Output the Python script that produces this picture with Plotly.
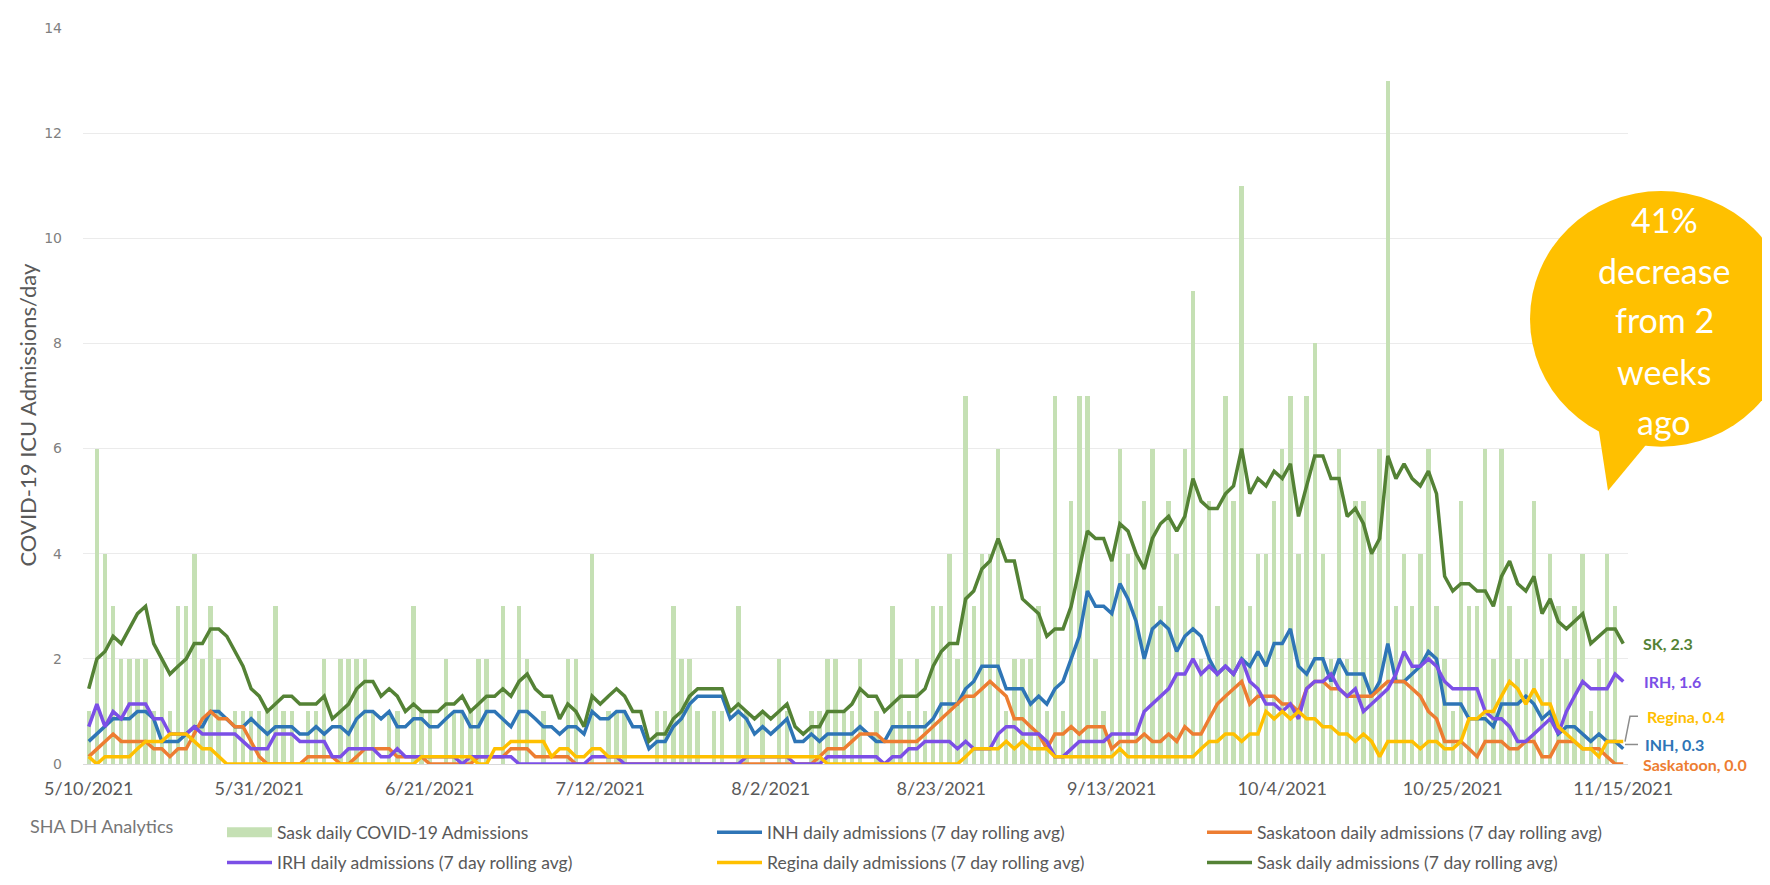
import pandas as pd
import plotly.graph_objects as go

# ── Data ──────────────────────────────────────────────────────────────────────
START_DATE = "2021-05-10"
END_DATE = "2021-11-15"

TICK_DATES = ["2021-05-10", "2021-05-31", "2021-06-21", "2021-07-12", "2021-08-02",
              "2021-08-23", "2021-09-13", "2021-10-04", "2021-10-25", "2021-11-15"]
TICK_LABELS = ["5/10/2021", "5/31/2021", "6/21/2021", "7/12/2021", "8/2/2021",
               "8/23/2021", "9/13/2021", "10/4/2021", "10/25/2021", "11/15/2021"]

# daily ICU admissions, Saskatchewan (bars)
SASK_DAILY = [
    1, 6, 4, 3, 2, 2, 2, 2, 1, 2, 1, 3, 3, 4, 2, 3, 2, 0, 1, 1, 1, 1, 1, 3, 1, 1, 0, 1, 1, 2, 0, 2, 2,
    2, 2, 1, 0, 1, 1, 0, 3, 1, 1, 0, 2, 1, 1, 1, 2, 2, 0, 3, 0, 3, 2, 0, 1, 0, 0, 2, 2, 0, 4, 0, 1, 1, 1, 0,
    0, 0, 1, 1, 3, 2, 2, 1, 0, 1, 1, 0, 3, 1, 0, 1, 0, 2, 1, 0, 0, 1, 1, 2, 2, 1, 1, 2, 0, 1, 0, 3, 2, 1,
    2, 1, 3, 3, 4, 2, 7, 3, 4, 4, 6, 1, 2, 2, 2, 3, 1, 7, 1, 5, 7, 7, 2, 1, 4, 6, 4, 4, 5, 6, 3, 5, 4, 6, 9, 2, 5, 3,
    7, 5, 11, 3, 4, 4, 5, 6, 7, 4, 7, 8, 4, 2, 6, 2, 5, 5, 4, 6, 13, 3, 4, 3, 4, 6, 3, 2, 1, 5, 3, 3, 6, 2,
    6, 3, 2, 2, 5, 2, 4, 3, 2, 3, 4, 1, 2, 4, 3, 0,
]

# 7 day rolling averages
INH_AVG = [
    0.43, 0.57, 0.71, 0.86, 0.86, 0.86, 1.0, 1.0, 0.86, 0.43, 0.43, 0.43, 0.57, 0.71, 0.71, 1.0, 1.0,
    0.86, 0.71, 0.71, 0.86, 0.71, 0.57, 0.71, 0.71, 0.71, 0.57, 0.57, 0.71, 0.57, 0.71, 0.71, 0.57,
    0.86, 1.0, 1.0, 0.86, 1.0, 0.71, 0.71, 0.86, 0.86, 0.71, 0.71, 0.86, 1.0, 1.0, 0.71, 0.71, 1.0, 1.0,
    0.86, 0.71, 1.0, 1.0, 0.86, 0.71, 0.71, 0.57, 0.71, 0.71, 0.57, 1.0, 0.86, 0.86, 1.0, 1.0, 0.71,
    0.71, 0.29, 0.43, 0.43, 0.71, 0.86, 1.14, 1.29, 1.29, 1.29, 1.29, 0.86, 1.0, 0.86, 0.57, 0.71, 0.57,
    0.71, 0.86, 0.43, 0.43, 0.57, 0.43, 0.57, 0.57, 0.57, 0.57, 0.71, 0.57, 0.43, 0.43, 0.71, 0.71,
    0.71, 0.71, 0.71, 0.86, 1.14, 1.14, 1.14, 1.43, 1.57, 1.86, 1.86, 1.86, 1.43, 1.43, 1.43, 1.14, 1.29,
    1.14, 1.43, 1.57, 2.0, 2.43, 3.29, 3.0, 3.0, 2.86, 3.43, 3.14, 2.71, 2.0, 2.57, 2.71, 2.57, 2.14, 2.43, 2.57,
    2.43, 2.0, 1.71, 1.86, 1.71, 2.0, 1.86, 2.14, 1.86, 2.29, 2.29, 2.57, 1.86, 1.71, 2.0, 2.0, 1.57, 2.0,
    1.71, 1.71, 1.71, 1.29, 1.57, 2.29, 1.57, 1.57, 1.71, 1.86, 2.14, 2.0, 1.14, 1.14, 1.14, 0.86, 0.86, 0.86,
    0.71, 1.14, 1.14, 1.14, 1.29, 1.14, 0.86, 1.0, 0.57, 0.71, 0.71, 0.57, 0.43, 0.57, 0.43, 0.43, 0.29,
]

SASKATOON_AVG = [
    0.14, 0.29, 0.43, 0.57, 0.43, 0.43, 0.43, 0.43, 0.29, 0.29, 0.14, 0.29, 0.29, 0.57, 0.86, 1.0, 0.86,
    0.86, 0.71, 0.71, 0.43, 0.14, 0.0, 0.0, 0.0, 0.0, 0.0, 0.14, 0.14, 0.14, 0.14, 0.0, 0.0,
    0.14, 0.29, 0.29, 0.29, 0.29, 0.14, 0.14, 0.14, 0.14, 0.0, 0.0, 0.0, 0.0, 0.0, 0.0, 0.14, 0.14, 0.14,
    0.14, 0.29, 0.29, 0.29, 0.14, 0.14, 0.14, 0.14, 0.14, 0.0, 0.0, 0.0, 0.0, 0.0, 0.0, 0.0, 0.0,
    0.0, 0.0, 0.0, 0.0, 0.0, 0.0, 0.0, 0.0, 0.0, 0.0, 0.0, 0.0, 0.0, 0.0, 0.0, 0.0, 0.0, 0.0, 0.0, 0.0,
    0.0, 0.0, 0.14, 0.29, 0.29, 0.29, 0.43, 0.57, 0.57, 0.57, 0.43, 0.43, 0.43,
    0.43, 0.43, 0.57, 0.71, 0.86, 1.0, 1.14, 1.29, 1.29, 1.43, 1.57, 1.43, 1.29, 0.86, 0.86, 0.71, 0.57,
    0.29, 0.57, 0.57, 0.71, 0.57, 0.71, 0.71, 0.71, 0.29, 0.43, 0.43, 0.43, 0.57, 0.43, 0.43, 0.57, 0.43, 0.71, 0.57,
    0.57, 0.86, 1.14, 1.29, 1.43, 1.57, 1.14, 1.29, 1.29, 1.29, 1.14, 1.14, 1.0, 1.43, 1.57, 1.57, 1.43, 1.43,
    1.29, 1.29, 1.29, 1.29, 1.43, 1.57, 1.57, 1.57, 1.43, 1.29, 1.0, 0.86, 0.43, 0.43, 0.43, 0.29, 0.14, 0.43,
    0.43, 0.43, 0.29, 0.29, 0.43, 0.43, 0.14, 0.14, 0.43, 0.43, 0.43, 0.29, 0.29, 0.29, 0.14, 0.0, 0.0,
]

IRH_AVG = [
    0.71, 1.14, 0.71, 1.0, 0.86, 1.14, 1.14, 1.14, 0.86, 0.86, 0.57, 0.57, 0.57, 0.71, 0.57, 0.57, 0.57,
    0.57, 0.57, 0.43, 0.29, 0.29, 0.29, 0.57, 0.57, 0.57, 0.43, 0.43, 0.43, 0.43, 0.14, 0.14, 0.29,
    0.29, 0.29, 0.29, 0.14, 0.14, 0.29, 0.14, 0.14, 0.14, 0.14, 0.14, 0.14, 0.14, 0.0, 0.14, 0.14, 0.14,
    0.14, 0.14, 0.14, 0.0, 0.0, 0.0, 0.0, 0.0, 0.0, 0.0, 0.0, 0.0, 0.14, 0.14, 0.14, 0.14, 0.0, 0.0,
    0.0, 0.0, 0.0, 0.0, 0.0, 0.0, 0.0, 0.0, 0.0, 0.0, 0.0, 0.0, 0.0, 0.14, 0.14, 0.14, 0.14, 0.14, 0.14,
    0.0, 0.0, 0.0, 0.0, 0.14, 0.14, 0.14, 0.14, 0.14, 0.14, 0.14, 0.0, 0.14, 0.14,
    0.29, 0.29, 0.43, 0.43, 0.43, 0.43, 0.29, 0.43, 0.29, 0.29, 0.29, 0.57, 0.71, 0.71, 0.57, 0.57, 0.57,
    0.43, 0.14, 0.14, 0.29, 0.43, 0.43, 0.43, 0.43, 0.57, 0.57, 0.57, 0.57, 1.0, 1.14, 1.29, 1.43, 1.71, 1.71, 2.0,
    1.71, 1.86, 1.71, 1.86, 1.71, 2.0, 1.57, 1.43, 1.14, 1.14, 1.0, 1.14, 0.86, 1.43, 1.57, 1.57, 1.71, 1.43,
    1.29, 1.43, 1.0, 1.14, 1.29, 1.43, 1.71, 2.14, 1.86, 1.86, 2.0, 1.86, 1.57, 1.43, 1.43, 1.43, 1.43, 1.0,
    0.86, 0.86, 0.71, 0.43, 0.43, 0.57, 0.71, 0.86, 0.57, 1.0, 1.29, 1.57, 1.43, 1.43, 1.43, 1.71, 1.57,
]

REGINA_AVG = [
    0.14, 0.0, 0.14, 0.14, 0.14, 0.14, 0.29, 0.43, 0.43, 0.43, 0.57, 0.57, 0.57, 0.43, 0.29, 0.29, 0.14,
    0.0, 0.0, 0.0, 0.0, 0.0, 0.0, 0.0, 0.0, 0.0, 0.0, 0.0, 0.0, 0.0, 0.0, 0.0, 0.0,
    0.0, 0.0, 0.0, 0.0, 0.0, 0.0, 0.0, 0.0, 0.14, 0.14, 0.14, 0.14, 0.14, 0.14, 0.14, 0.0, 0.0, 0.29,
    0.29, 0.43, 0.43, 0.43, 0.43, 0.43, 0.14, 0.29, 0.29, 0.14, 0.14, 0.29, 0.29, 0.14, 0.14, 0.14, 0.14,
    0.14, 0.14, 0.14, 0.14, 0.14, 0.14, 0.14, 0.14, 0.14, 0.14, 0.14, 0.14, 0.14, 0.14, 0.14, 0.14, 0.14,
    0.14, 0.14, 0.14, 0.14, 0.14, 0.14, 0.0, 0.0, 0.0, 0.0, 0.0, 0.0, 0.0, 0.0, 0.0, 0.0,
    0.0, 0.0, 0.0, 0.0, 0.0, 0.0, 0.0, 0.14, 0.29, 0.29, 0.29, 0.29, 0.43, 0.29, 0.43, 0.29, 0.29,
    0.29, 0.14, 0.14, 0.14, 0.14, 0.14, 0.14, 0.14, 0.14, 0.29, 0.14, 0.14, 0.14, 0.14, 0.14, 0.14, 0.14, 0.14, 0.14,
    0.29, 0.43, 0.43, 0.57, 0.57, 0.43, 0.57, 0.57, 1.0, 0.86, 1.0, 0.86, 1.0, 0.86, 0.86, 0.71, 0.71, 0.57,
    0.57, 0.43, 0.57, 0.43, 0.14, 0.43, 0.43, 0.43, 0.43, 0.29, 0.43, 0.43, 0.29, 0.29, 0.43, 0.86, 0.86, 1.0,
    1.0, 1.29, 1.57, 1.43, 1.14, 1.43, 1.14, 1.14, 0.71, 0.57, 0.43, 0.29, 0.29, 0.14, 0.43, 0.43, 0.43,
]

SASK_AVG = [
    1.43, 2.0, 2.14, 2.43, 2.29, 2.57, 2.86, 3.0, 2.29, 2.0, 1.71, 1.86, 2.0, 2.29, 2.29, 2.57, 2.57,
    2.43, 2.14, 1.86, 1.43, 1.29, 1.0, 1.14, 1.29, 1.29, 1.14, 1.14, 1.14, 1.29, 0.86, 1.0, 1.14,
    1.43, 1.57, 1.57, 1.29, 1.43, 1.29, 1.0, 1.14, 1.0, 1.0, 1.0, 1.14, 1.14, 1.29, 1.0, 1.14, 1.29,
    1.29, 1.43, 1.29, 1.57, 1.71, 1.43, 1.29, 1.29, 0.86, 1.14, 1.0, 0.71, 1.29, 1.14, 1.29, 1.43, 1.29, 1.0,
    1.0, 0.43, 0.57, 0.57, 0.86, 1.0, 1.29, 1.43, 1.43, 1.43, 1.43, 1.0, 1.14, 1.0, 0.86, 1.0, 0.86,
    1.0, 1.14, 0.71, 0.57, 0.71, 0.71, 1.0, 1.0, 1.0, 1.14, 1.43, 1.29, 1.29, 1.0, 1.14, 1.29, 1.29, 1.29,
    1.43, 1.86, 2.14, 2.29, 2.29, 3.14, 3.29, 3.71, 3.86, 4.29, 3.86, 3.86, 3.14, 3.0, 2.86, 2.43, 2.57,
    2.57, 3.0, 3.71, 4.43, 4.29, 4.29, 3.86, 4.57, 4.43, 4.0, 3.71, 4.29, 4.57, 4.71, 4.43, 4.71, 5.43, 5.0,
    4.86, 4.86, 5.14, 5.29, 6.0, 5.14, 5.43, 5.29, 5.57, 5.43, 5.71, 4.71, 5.29, 5.86, 5.86, 5.43, 5.43,
    4.71, 4.86, 4.57, 4.0, 4.29, 5.86, 5.43, 5.71, 5.43, 5.29, 5.57, 5.14, 3.57, 3.29, 3.43, 3.43, 3.29, 3.29,
    3.0, 3.57, 3.86, 3.43, 3.29, 3.57, 2.86, 3.14, 2.71, 2.57, 2.71, 2.86, 2.29, 2.43, 2.57, 2.57, 2.29,
]

dates = pd.date_range(START_DATE, END_DATE, freq="D")
for series in (SASK_DAILY, INH_AVG, SASKATOON_AVG, IRH_AVG, REGINA_AVG, SASK_AVG):
    assert len(series) == len(dates), len(series)

# ── Style ─────────────────────────────────────────────────────────────────────
BAR_GREEN = "#C5E0B4"
INH_BLUE = "#2E75B6"
SKTN_ORANGE = "#ED7D31"
IRH_PURPLE = "#7B4FE6"
REGINA_GOLD = "#FFC000"
SASK_GREEN = "#548235"
TEXT_GREY = "#595959"
FONT = "Lato, 'Open Sans', sans-serif"

W, H = 1770, 885
L, R, T, B = 75, 150, 18, 113
PW, PH = W - L - R, H - T - B


def px(x):
    return (x - L) / PW


def py(y):
    return (H - B - y) / PH


DAY_MS = 86400000

fig = go.Figure()
fig.add_trace(go.Bar(
    x=dates, y=SASK_DAILY, name="Sask daily COVID-19 Admissions", showlegend=False,
    marker=dict(color=BAR_GREEN, line=dict(width=0)), width=0.55 * DAY_MS,
))

# legend row 1: bars, INH, Saskatoon; row 2: IRH, Regina, Sask
fig.add_trace(go.Scatter(
    x=[None], y=[None], mode="lines", name="Sask daily COVID-19 Admissions",
    line=dict(color=BAR_GREEN, width=12), legend="legend",
))
lines = [
    ("INH daily admissions (7 day rolling avg)", INH_AVG, INH_BLUE, "legend"),
    ("Saskatoon daily admissions (7 day rolling avg)", SASKATOON_AVG, SKTN_ORANGE, "legend"),
    ("IRH daily admissions (7 day rolling avg)", IRH_AVG, IRH_PURPLE, "legend2"),
    ("Regina daily admissions (7 day rolling avg)", REGINA_AVG, REGINA_GOLD, "legend2"),
    ("Sask daily admissions (7 day rolling avg)", SASK_AVG, SASK_GREEN, "legend2"),
]
for name, values, color, legend in lines:
    fig.add_trace(go.Scatter(
        x=dates, y=values, name=name, mode="lines", legend=legend,
        line=dict(color=color, width=3.5),
    ))

legend_style = dict(
    orientation="h", x=px(214), xanchor="left", yanchor="middle",
    entrywidth=430, entrywidthmode="pixels", itemwidth=45,
    font=dict(family=FONT, size=17.5, color=TEXT_GREY),
    bgcolor="rgba(0,0,0,0)", traceorder="normal",
)
fig.update_layout(
    width=W, height=H,
    margin=dict(l=L, r=R, t=T, b=B),
    plot_bgcolor="white", paper_bgcolor="white",
    font=dict(family=FONT, color=TEXT_GREY),
    showlegend=True,
    legend=dict(legend_style, y=py(842)),
    legend2=dict(legend_style, y=py(873)),
    bargap=0,
)
fig.update_xaxes(
    type="date",
    range=["2021-05-09 07:00", "2021-11-15 14:00"],
    tickvals=TICK_DATES, ticktext=TICK_LABELS,
    showgrid=False, showline=True, linecolor="#D9D9D9", linewidth=1,
    ticks="", ticklabelstandoff=8,
    tickfont=dict(family=FONT, size=18, color=TEXT_GREY),
)
fig.update_yaxes(
    range=[0, 14], dtick=2, tick0=0,
    showgrid=True, gridcolor="#EBEBEB", gridwidth=1,
    zeroline=False, showline=False, ticks="", ticklabelstandoff=20,
    tickfont=dict(family="DejaVu Sans", size=14, color="#7F7F7F"),
)

# ── Annotations ───────────────────────────────────────────────────────────────
annotations = [
    dict(x=px(20), y=py(415), text="COVID-19 ICU Admissions/day", textangle=-90,
         font=dict(family=FONT, size=22, color=TEXT_GREY)),
    dict(x=px(20), y=py(836), text="SHA DH Analytics", xanchor="left",
         font=dict(family=FONT, size=18, color="#767676")),
]
end_labels = [
    ("SK, 2.3", 1633, 649, SASK_GREEN),
    ("IRH, 1.6", 1634, 687, IRH_PURPLE),
    ("Regina, 0.4", 1637, 723, REGINA_GOLD),
    ("INH, 0.3", 1635, 752, INH_BLUE),
    ("Saskatoon, 0.0", 1633, 773, SKTN_ORANGE),
]
for text, x, y, color in end_labels:
    annotations.append(dict(x=px(x), y=py(y), text=f"<b>{text}</b>", xanchor="left",
                            font=dict(family=FONT, size=16, color=color)))

bubble_lines = [("41%", 214), ("decrease", 266), ("from 2", 317), ("weeks", 370), ("ago", 421)]
for text, y in bubble_lines:
    annotations.append(dict(x=px(1656), y=py(y), text=text,
                            font=dict(family=FONT, size=34, color="white")))

for a in annotations:
    a.update(xref="paper", yref="paper", showarrow=False)
    a.setdefault("xanchor", "center")
    a.setdefault("yanchor", "middle")
fig.update_layout(annotations=annotations)

# speech bubble and leader lines
tail = f"M {px(1590)},{py(425)} L {px(1600)},{py(492)} L {px(1642)},{py(440)} Z"
fig.update_layout(shapes=[
    dict(type="path", path=tail, xref="paper", yref="paper",
         fillcolor=REGINA_GOLD, line=dict(width=0), layer="above"),
    dict(type="circle", xref="paper", yref="paper",
         x0=px(1522), x1=px(1784), y0=py(447), y1=py(185),
         fillcolor=REGINA_GOLD, line=dict(width=0), layer="above"),
    dict(type="path", xref="paper", yref="paper",
         path=f"M {px(1630)},{py(723)} L {px(1622)},{py(723)} L {px(1617)},{py(749)}",
         line=dict(color="#8C8C8C", width=1.5)),
    dict(type="line", xref="paper", yref="paper",
         x0=px(1617), x1=px(1630), y0=py(752), y1=py(752),
         line=dict(color="#8C8C8C", width=1.5)),
])

fig.write_html("out.html")
